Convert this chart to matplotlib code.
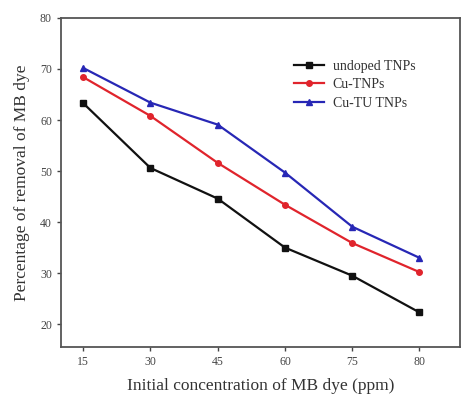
import matplotlib
matplotlib.use('Agg')
import matplotlib.pyplot as plt

# concentration labels as printed on the axis
conc_labels = ['15', '30', '45', '60', '75', '80']
undoped = [63.3, 50.6, 44.6, 35.0, 29.5, 22.3]
cu_tnps = [68.4, 60.8, 51.6, 43.4, 35.9, 30.2]
cu_tu = [70.2, 63.4, 59.1, 49.7, 39.1, 33.0]

plt.rcParams['font.family'] = ['Liberation Serif', 'DejaVu Serif']

fig = plt.figure(figsize=(4.64, 3.99), dpi=100)
ax = fig.add_axes([0.1315, 0.130, 0.8595, 0.825])

x = range(len(conc_labels))
ax.plot(x, undoped, color='#111111', marker='s', markersize=4, linewidth=1.6, label='undoped TNPs')
ax.plot(x, cu_tnps, color='#e0242c', marker='o', markersize=4, linewidth=1.6, label='Cu-TNPs')
ax.plot(x, cu_tu, color='#2727b5', marker='^', markersize=4.5, linewidth=1.6, label='Cu-TU TNPs')

ax.set_xlim(-0.33, 5.6)
ax.set_ylim(15.5, 80)
ax.set_xticks(list(x))
ax.set_xticklabels(conc_labels)
ax.set_yticks([20, 30, 40, 50, 60, 70, 80])
ax.tick_params(labelsize=8.5, colors='#444444', length=3, width=1)

for s in ax.spines.values():
    s.set_color('#555555')
    s.set_linewidth(1.3)

ax.set_xlabel('Initial concentration of MB dye (ppm)', fontsize=12.5, color='#333333', labelpad=7)
ax.set_ylabel('Percentage of removal of MB dye', fontsize=12.5, color='#333333', labelpad=7)

ax.legend(loc='upper right', bbox_to_anchor=(0.92, 0.91), frameon=False, fontsize=10,
          handlelength=2.2, handletextpad=0.6, labelspacing=0.38, labelcolor='#333333')

plt.savefig('out.png', dpi=100)
